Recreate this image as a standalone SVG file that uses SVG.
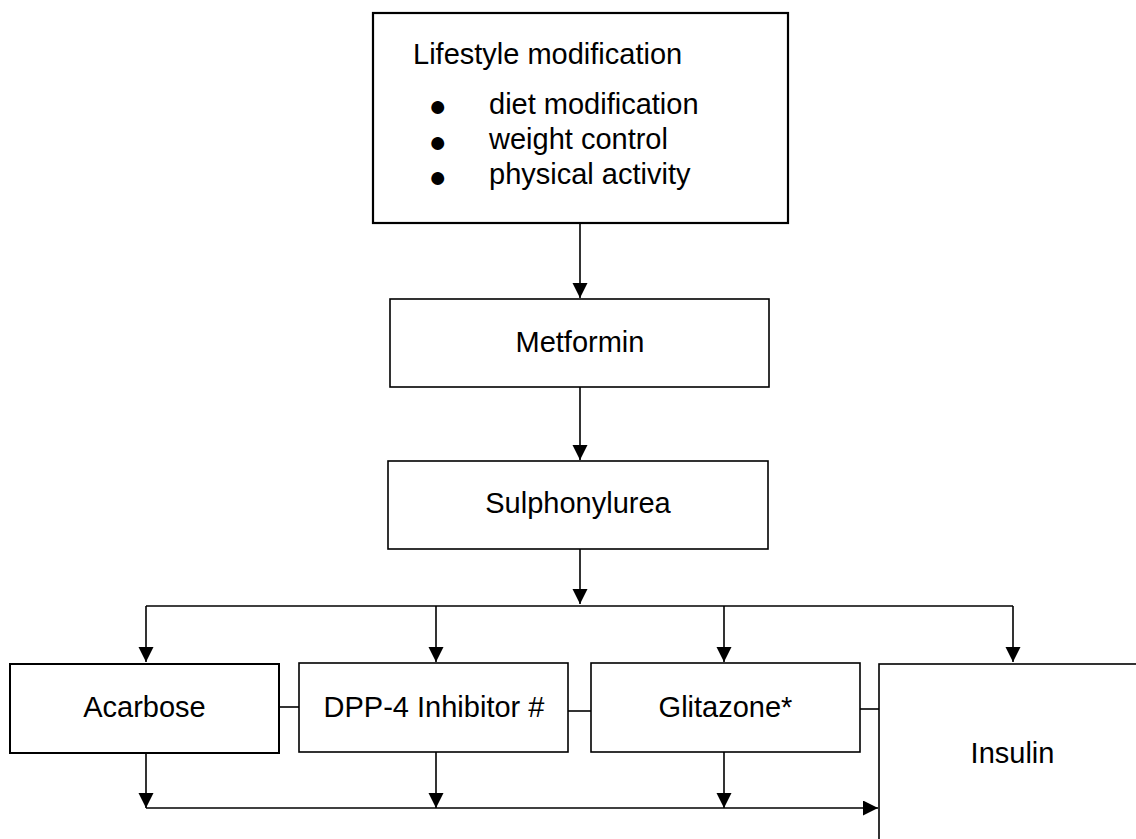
<svg xmlns="http://www.w3.org/2000/svg" width="1136" height="839" viewBox="0 0 1136 839">
<style>
.box{fill:#fff;stroke:#000;stroke-width:1.6}
.thick{stroke-width:2.2}
.lbl{font-family:"Liberation Sans",Arial,sans-serif;font-size:29px;fill:#000}
.mid{text-anchor:middle}
.bul{font-size:30px;text-anchor:middle}
.ln{fill:none;stroke:#000;stroke-width:1.6}
</style>
<defs>
<marker id="ah" markerUnits="userSpaceOnUse" markerWidth="16" markerHeight="16" refX="15" refY="7.5" orient="auto">
<path d="M0,0 L15,7.5 L0,15 z" fill="#000"/>
</marker>
</defs>
<rect width="1136" height="839" fill="#fff"/>
<g id="connectors">
<line class="ln" x1="580" y1="223" x2="580" y2="298" marker-end="url(#ah)"/>
<line class="ln" x1="580" y1="387" x2="580" y2="460" marker-end="url(#ah)"/>
<line class="ln" x1="580" y1="549" x2="580" y2="604" marker-end="url(#ah)"/>
<polyline class="ln" points="146,606 1013,606"/>
<line class="ln" x1="146" y1="606" x2="146" y2="662" marker-end="url(#ah)"/>
<line class="ln" x1="436" y1="606" x2="436" y2="662" marker-end="url(#ah)"/>
<line class="ln" x1="724" y1="606" x2="724" y2="662" marker-end="url(#ah)"/>
<line class="ln" x1="1013" y1="606" x2="1013" y2="662" marker-end="url(#ah)"/>
<line class="ln" x1="279" y1="707" x2="299" y2="707"/>
<line class="ln" x1="568" y1="711" x2="591" y2="711"/>
<line class="ln" x1="860" y1="709" x2="879" y2="709"/>
<line class="ln" x1="146" y1="753" x2="146" y2="808" marker-end="url(#ah)"/>
<line class="ln" x1="436" y1="752" x2="436" y2="808" marker-end="url(#ah)"/>
<line class="ln" x1="724" y1="752" x2="724" y2="808" marker-end="url(#ah)"/>
<line class="ln" x1="146" y1="808" x2="878" y2="808" marker-end="url(#ah)"/>
</g>
<g id="lifestyle">
<rect class="box thick" x="373" y="13" width="415" height="210"/>
<text class="lbl" x="413" y="64">Lifestyle modification</text>
<text class="lbl"><tspan class="bul" x="437.5" y="116">●</tspan><tspan x="489" y="114">diet modification</tspan></text>
<text class="lbl"><tspan class="bul" x="437.5" y="151.5">●</tspan><tspan x="489" y="149">weight control</tspan></text>
<text class="lbl"><tspan class="bul" x="437.5" y="187">●</tspan><tspan x="489" y="184">physical activity</tspan></text>
</g>
<g id="metformin">
<rect class="box" x="390" y="299" width="379" height="88"/>
<text class="lbl mid" x="580" y="352">Metformin</text>
</g>
<g id="sulphonylurea">
<rect class="box" x="388" y="461" width="380" height="88"/>
<text class="lbl mid" x="578" y="513">Sulphonylurea</text>
</g>
<g id="acarbose">
<rect class="box" x="10" y="664" width="269" height="89" style="stroke-width:2"/>
<text class="lbl mid" x="144.5" y="717">Acarbose</text>
</g>
<g id="dpp4">
<rect class="box" x="299" y="663" width="269" height="89"/>
<text class="lbl mid" x="434" y="717">DPP-4 Inhibitor #</text>
</g>
<g id="glitazone">
<rect class="box" x="591" y="663" width="269" height="89"/>
<text class="lbl mid" x="725.5" y="717">Glitazone*</text>
</g>
<g id="insulin">
<rect class="box" x="879" y="664" width="270" height="200"/>
<text class="lbl mid" x="1012.5" y="763">Insulin</text>
</g>
</svg>
